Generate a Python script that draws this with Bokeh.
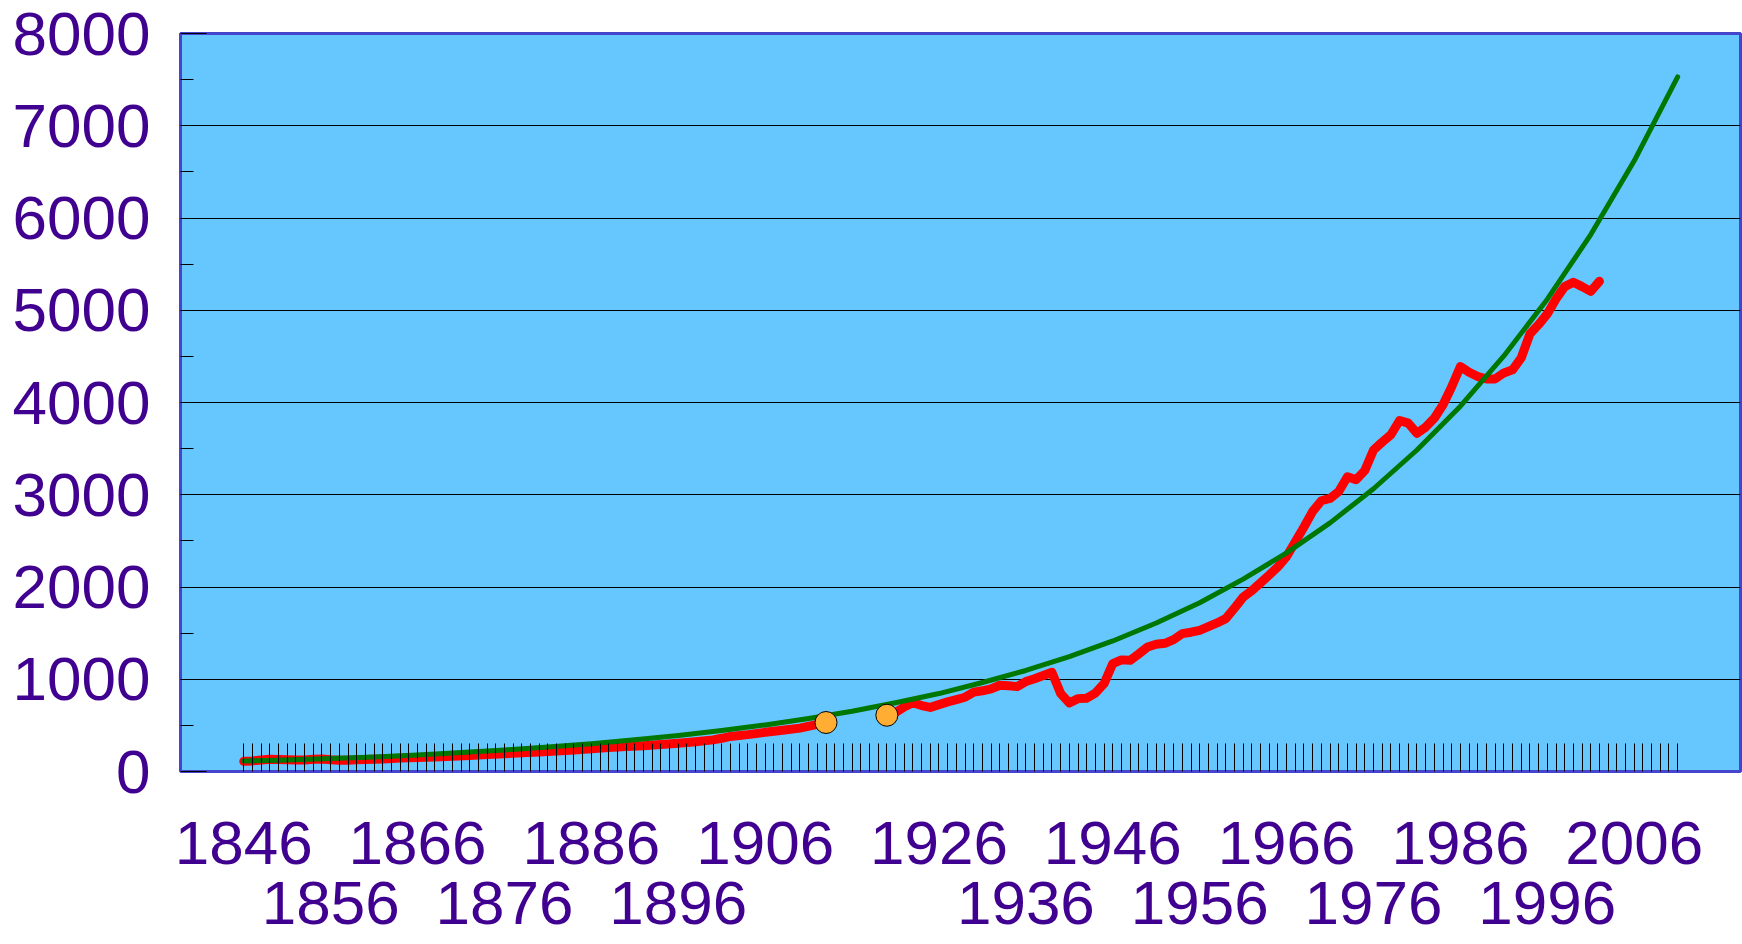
from bokeh.plotting import figure
from bokeh.models import Range1d, FixedTicker, LinearAxis, BasicTickFormatter
from bokeh.embed import file_html
from bokeh.resources import INLINE

# ---- data ----
red_years = [1846, 1847, 1848, 1849, 1850, 1851, 1852, 1853, 1854, 1855, 1856, 1857, 1858, 1859,
             1860, 1862, 1864, 1866, 1868, 1870, 1872, 1874, 1876, 1878, 1880, 1882, 1884, 1886,
             1888, 1890, 1892, 1894, 1896, 1898, 1900, 1901, 1902, 1904, 1906, 1908, 1910, 1912,
             1913,
             1920, 1921, 1922, 1923, 1924, 1925, 1926, 1927, 1928, 1929, 1930, 1931, 1932, 1933,
             1934, 1935, 1936, 1937, 1938, 1939, 1940, 1941, 1942, 1943, 1944, 1945, 1946, 1947,
             1948, 1949, 1950, 1951, 1952, 1953, 1954, 1955, 1956, 1957, 1958, 1959, 1960, 1961,
             1962, 1963, 1964, 1965, 1966, 1967, 1968, 1969, 1970, 1971, 1972, 1973, 1974, 1975,
             1976, 1977, 1978, 1979, 1980, 1981, 1982, 1983, 1984, 1985, 1986, 1987, 1988, 1989,
             1990, 1991, 1992, 1993, 1994, 1995, 1996, 1997, 1998, 1999, 2000, 2001, 2002]
red_values = [110, 115, 125, 132, 130, 127, 125, 124, 132, 136, 128, 123, 122, 126,
              130, 136, 145, 151, 158, 166, 173, 183, 192, 202, 212, 222, 233, 246,
              259, 270, 280, 292, 305, 322, 343, 360, 380, 400, 425, 448, 470, 510,
              531,
              610, 640, 700, 745, 715, 695, 725, 755, 780, 805, 860, 875, 895, 935,
              930, 920, 975, 1005, 1040, 1075, 845, 743, 790, 795, 850, 953, 1170, 1210,
              1205, 1275, 1350, 1380, 1390, 1430, 1495, 1510, 1530, 1570, 1610, 1657, 1770, 1890,
              1960, 2045, 2130, 2220, 2330, 2490, 2650, 2820, 2935, 2960, 3035, 3195, 3162, 3263,
              3485, 3570, 3650, 3805, 3776, 3667, 3732, 3830, 3975, 4170, 4390, 4328, 4281, 4256,
              4256, 4321, 4354, 4484, 4744, 4845, 4960, 5123, 5256, 5303, 5256, 5205, 5314]

trend_years = [1846, 1851, 1856, 1861, 1866, 1871, 1876, 1881, 1886, 1891, 1896, 1901, 1906,
               1911, 1916, 1921, 1926, 1931, 1936, 1941, 1946, 1951, 1956, 1961, 1966, 1971,
               1976, 1981, 1986, 1991, 1996, 2001, 2006, 2011]
trend_values = [115, 124, 140, 158, 180, 205, 233, 266, 302, 343, 390, 445, 505,
                575, 653, 745, 845, 965, 1095, 1245, 1415, 1610, 1830, 2085, 2370, 2695,
                3065, 3485, 3960, 4505, 5120, 5820, 6620, 7530]

marker_years = [1913, 1920]
marker_values = [531, 610]

label_years_row1 = [1846, 1866, 1886, 1906, 1926, 1946, 1966, 1986, 2006]
label_years_row2 = [1856, 1876, 1896, 1936, 1956, 1976, 1996]
tick_years = list(range(1846, 2012))
y_ticks = list(range(0, 8001, 1000))
y_minor_ticks = list(range(500, 8000, 1000))

LABEL_COLOR = "#400090"
FONT = "Liberation Sans"
FONT_SIZE = "62px"

p = figure(width=1742, height=944, output_backend="svg", toolbar_location=None,
           x_range=Range1d(1838.72, 2018.23), y_range=Range1d(0, 8000),
           min_border_left=180, min_border_right=2, min_border_top=33, min_border_bottom=173,
           background_fill_color="#66C7FF", border_fill_color="white",
           outline_line_color="#4444CC", outline_line_width=3)

# split red series at the data gap
segs_x, segs_y = [[]], [[]]
for i, (yr, v) in enumerate(zip(red_years, red_values)):
    if i > 0 and yr - red_years[i - 1] > 3:
        segs_x.append([])
        segs_y.append([])
    segs_x[-1].append(yr)
    segs_y[-1].append(v)
for sx, sy in zip(segs_x, segs_y):
    p.line(sx, sy, line_color="#FF0000", line_width=9, line_join="round", line_cap="round")

p.line(trend_years, trend_values, line_color="#007700", line_width=5,
       line_join="round", line_cap="round")

p.scatter(marker_years, marker_values, marker="circle", size=22,
          fill_color="#FFAE33", line_color="black", line_width=1)

# y axis
yax = p.yaxis[0]
yax.ticker = FixedTicker(ticks=y_ticks, minor_ticks=y_minor_ticks)
yax.formatter = BasicTickFormatter(use_scientific=False)
yax.major_tick_in = 26
yax.major_tick_out = 0
yax.minor_tick_in = 13
yax.minor_tick_out = 0
yax.major_tick_line_color = "black"
yax.minor_tick_line_color = "black"
yax.axis_line_color = None
yax.major_label_text_font = FONT
yax.major_label_text_font_size = FONT_SIZE
yax.major_label_text_color = LABEL_COLOR
yax.major_label_standoff = 30

p.ygrid.ticker = FixedTicker(ticks=y_ticks)
p.ygrid.grid_line_color = "black"
p.ygrid.grid_line_width = 1
p.xgrid.visible = False

# x axis: year ticks + first label row
xa = p.xaxis[0]
xa.ticker = FixedTicker(ticks=label_years_row1, minor_ticks=tick_years)
xa.formatter = BasicTickFormatter(use_scientific=False)
xa.major_tick_in = 0
xa.major_tick_out = 0
xa.minor_tick_in = 28
xa.minor_tick_out = 0
xa.minor_tick_line_color = "black"
xa.axis_line_color = None
xa.major_label_text_font = FONT
xa.major_label_text_font_size = FONT_SIZE
xa.major_label_text_color = LABEL_COLOR
xa.major_label_standoff = 50

# second (staggered) label row
xb = LinearAxis(ticker=FixedTicker(ticks=label_years_row2, minor_ticks=[]),
                formatter=BasicTickFormatter(use_scientific=False))
xb.major_tick_in = 0
xb.major_tick_out = 0
xb.minor_tick_in = 0
xb.minor_tick_out = 0
xb.axis_line_color = None
xb.major_label_text_font = FONT
xb.major_label_text_font_size = FONT_SIZE
xb.major_label_text_color = LABEL_COLOR
xb.major_label_standoff = 15
p.add_layout(xb, "below")

open("out.html", "w").write(file_html(p, INLINE))
